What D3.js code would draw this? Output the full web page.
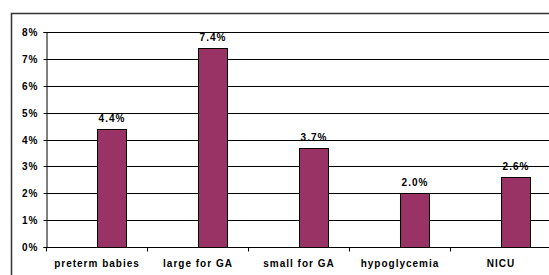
<!DOCTYPE html>
<html><head><meta charset="utf-8">
<script src="https://cdn.jsdelivr.net/npm/d3@7"></script>
<style>body{margin:0;background:#fff}svg{display:block}text{font-family:"Liberation Sans",Arial,sans-serif;font-weight:bold;letter-spacing:1px}</style>
</head><body><svg id="c" width="549" height="275"></svg>
<script>
const categories = ["preterm babies","large for GA","small for GA","hypoglycemia","NICU"];
const values = [4.4, 7.4, 3.7, 2.0, 2.6];
const yTicks = [0,1,2,3,4,5,6,7,8];

const svg = d3.select("#c");
const L = 46, R = 551, T = 32, B = 247;
// outer frame
svg.append("rect").attr("x",11.5).attr("y",13.5).attr("width",600).attr("height",300)
  .attr("fill","none").attr("stroke","#333").attr("stroke-width",1.5);

const x = d3.scaleBand().domain(categories).range([L,R]);
const y = d3.scaleLinear().domain([0,8]).range([B,T]);

// gridlines
svg.append("g").selectAll("line").data(yTicks.filter(d=>d>0)).join("line")
  .attr("x1",L).attr("x2",R).attr("y1",d=>Math.round(y(d))+0.5).attr("y2",d=>Math.round(y(d))+0.5)
  .attr("stroke","#000").attr("stroke-width",1);

// bars
const bw = 29;
svg.append("g").selectAll("rect").data(values).join("rect")
  .attr("x",(d,i)=>Math.round(x(categories[i])+x.bandwidth()/2)+0.5)
  .attr("y",d=>Math.round(y(d))+0.5)
  .attr("width",bw).attr("height",d=>Math.round(B)-Math.round(y(d)))
  .attr("fill","#993366").attr("stroke","#000").attr("stroke-width",1);

// data labels
svg.append("g").selectAll("text").data(values).join("text")
  .attr("x",(d,i)=>x(categories[i])+x.bandwidth()/2+bw/2+1)
  .attr("y",d=>y(d)-7).attr("text-anchor","middle").attr("font-size",10)
  .text(d=>d.toFixed(1)+"%");

// y axis
const ya = svg.append("g").attr("transform",`translate(${L+0.5},0)`)
  .call(d3.axisLeft(y).tickValues(yTicks).tickFormat(d=>d+"%").tickSize(3).tickPadding(5));
ya.select(".domain").attr("stroke","#000");
ya.selectAll("line").attr("stroke","#000");
ya.selectAll("text").attr("font-size",10).attr("fill","#000").style("font-family",'"Liberation Sans",Arial,sans-serif').style("font-weight","bold");
ya.selectAll(".tick").attr("transform",d=>`translate(0,${Math.round(y(d))+0.5})`);

// x axis
const xa = svg.append("g").attr("transform",`translate(0,${B+0.5})`);
xa.append("line").attr("x1",L).attr("x2",R).attr("stroke","#000");
const edges = categories.map(c=>x(c)).concat([R]);
xa.selectAll("line.t").data(edges).join("line").attr("class","t")
  .attr("x1",d=>Math.round(d)+0.5).attr("x2",d=>Math.round(d)+0.5).attr("y1",0).attr("y2",4).attr("stroke","#000");
xa.selectAll("text").data(categories).join("text")
  .attr("x",d=>x(d)+x.bandwidth()/2+0.5).attr("y",19).attr("text-anchor","middle").attr("font-size",10)
  .text(d=>d);
</script></body></html>
